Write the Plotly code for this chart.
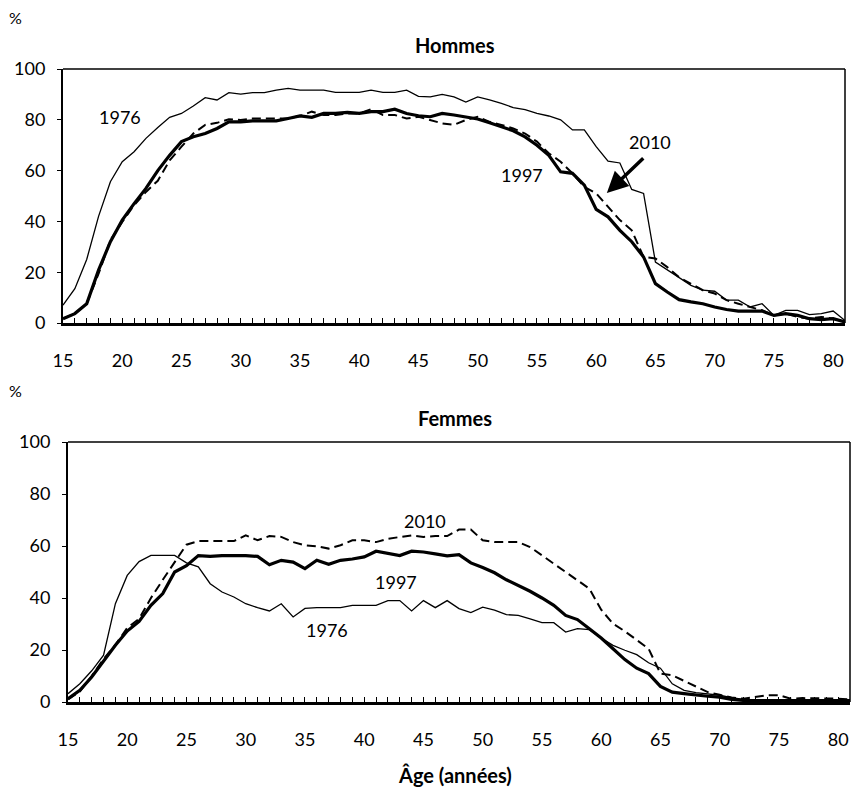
import plotly.graph_objects as go

ages = list(range(15, 82))

men_1976 = [7, 13.5, 25, 42, 55.6, 63.5, 67.4, 72.7, 77, 81, 82.5, 85.4, 88.7, 87.8, 90.7,
            90.1, 90.7, 90.7, 91.7, 92.4, 91.7, 91.7, 91.7, 90.8, 90.8, 90.8, 91.7, 90.8, 90.8, 91.7,
            89.2, 89, 90, 89, 87, 89, 87.8, 86.5, 84.8, 84, 82.5, 81.5, 80, 76, 76,
            69.4, 63.7, 63, 52.6, 51, 24, 21, 18, 14.8, 12.9, 12.5, 9, 9, 6.3, 7.6,
            3, 5, 5, 3.3, 3.7, 4.7, 1]
men_1997 = [1.7, 3.7, 7.6, 20.8, 32, 40.5, 47, 53, 60, 66, 71.4, 73.3, 74.6, 76.6, 79.2,
            79.2, 79.6, 79.6, 79.6, 80.5, 81.5, 81, 82.5, 82.5, 82.9, 82.5, 83.2, 83.2, 84.2, 82.5,
            81.6, 81.2, 82.5, 81.9, 81.2, 80.3, 78.8, 77.3, 75.7, 73.3, 70, 66, 59.5, 58.9, 54.3,
            44.7, 41.8, 36.5, 32, 26, 15.5, 12.2, 9.2, 8.3, 7.6, 6.3, 5.3, 4.7, 4.7, 4.7,
            3, 3.7, 3, 1.7, 1.3, 1.7, 0.4]
men_2010 = [1.7, 3.7, 7.6, 19.4, 32.6, 39.8, 46.4, 51.6, 56, 64, 69.4, 74.6, 78, 78.8, 80.2,
            79.9, 80.5, 80.5, 80.5, 80.5, 81.5, 83.2, 81.9, 81.9, 82.5, 82.5, 84.2, 81.9, 81.9, 80.5,
            81.2, 79.9, 78.6, 78, 79.9, 81.2, 79.2, 78, 76.6, 74.6, 71.4, 66.8, 63.5, 58.9, 53.6,
            51, 45.7, 40.5, 36.5, 26, 25.4, 22, 18, 15.5, 12.9, 11.6, 9, 7.6, 6.3, 5,
            3, 3.7, 2.4, 1.7, 2.4, 1.7, 0.5]

women_1976 = [3.2, 7, 12, 18, 37.8, 48.7, 54, 56.4, 56.4, 56.4, 53.5, 52, 45.5, 42.3, 40.4,
              37.8, 36.3, 35, 37.8, 32.7, 36, 36.3, 36.3, 36.3, 37.2, 37.2, 37.2, 39, 39, 35,
              39, 36.3, 39, 35.9, 34.4, 36.5, 35.3, 33.6, 33.3, 32, 30.5, 30.5, 26.9, 28.2, 27.8,
              24.6, 21.8, 19.9, 18.2, 15.1, 13, 7, 4.5, 3.6, 3.2, 2.6, 1.7, 1, 0.9, 0.8,
              0.7, 0.7, 0.7, 0.7, 0.7, 0.7, 0.7]
women_1997 = [1.3, 4.5, 9.6, 15.8, 21.8, 27.3, 31, 37.2, 41.7, 50, 52.4, 56.3, 56, 56.3, 56.4,
              56.3, 56, 52.8, 54.5, 53.8, 51.3, 54.5, 53, 54.5, 55, 55.8, 58, 57.3, 56.3, 58,
              57.7, 57, 56.2, 56.7, 53.5, 51.7, 49.7, 47, 44.9, 42.6, 40, 37.2, 33.3, 31.7, 28.2,
              24.6, 20.5, 16.3, 13, 10.9, 6, 3.8, 3.2, 2.6, 2.2, 1.9, 1, 0.6, 0.5, 0.5,
              0.5, 0.5, 0.5, 0.5, 0.5, 0.5, 0.5]
women_2010 = [1, 4, 10, 16.5, 22, 28.5, 32, 40, 47, 54, 60.5, 61.9, 61.9, 61.9, 61.9,
              64.1, 62.2, 63.8, 63.5, 61.5, 60.3, 59.9, 59, 60.3, 62.2, 62.2, 61.5, 62.8, 63.5, 64.1,
              63.5, 63.8, 63.8, 66.3, 66.3, 62.2, 61.5, 61.5, 61.5, 59.6, 56.4, 53.2, 49.7, 46.8, 43.6,
              35.5, 30.1, 27.2, 24, 20.5, 10.9, 10.3, 8.1, 5.8, 3.8, 2.8, 1.7, 1.3, 1.9, 2.6,
              2.6, 1.3, 1.5, 1.5, 1.3, 1.3, 1]

x_tick_vals = list(range(15, 81, 5))
y_tick_vals = [0, 20, 40, 60, 80, 100]

FONT = "Lato"
W, H = 855, 789

fig = go.Figure()

def add_series(xa, ya, y76, y97, y10):
    fig.add_trace(go.Scatter(x=ages, y=y76, mode="lines", xaxis=xa, yaxis=ya,
                             line=dict(color="black", width=1.3), showlegend=False))
    fig.add_trace(go.Scatter(x=ages, y=y10, mode="lines", xaxis=xa, yaxis=ya,
                             line=dict(color="black", width=2, dash="9px,5px"), showlegend=False))
    fig.add_trace(go.Scatter(x=ages, y=y97, mode="lines", xaxis=xa, yaxis=ya,
                             line=dict(color="black", width=3.2), showlegend=False))

add_series("x", "y", men_1976, men_1997, men_2010)
add_series("x2", "y2", women_1976, women_1997, women_2010)

def px_dom_x(a, b):
    return [a / W, b / W]

def px_dom_y(top, bottom):
    return [1 - bottom / H, 1 - top / H]

xcommon = dict(range=[15, 81], tickvals=x_tick_vals, ticks="inside", ticklen=5,
               tickcolor="black", tickwidth=1.2, showgrid=False, zeroline=False,
               showline=True, linecolor="black", linewidth=2.5, automargin=False,
               minor=dict(ticks="inside", dtick=1, tick0=15, ticklen=5, tickcolor="black",
                          tickwidth=1.2),
               tickfont=dict(family=FONT, size=18, color="black"), ticklabelstandoff=20)
ycommon = dict(range=[0, 100], tickvals=y_tick_vals, ticks="outside", ticklen=4,
               tickcolor="black", showgrid=False, zeroline=False, showline=True,
               linecolor="black", linewidth=2, ticklabelstandoff=8, automargin=False,
               tickfont=dict(family=FONT, size=18, color="black"))

fig.update_layout(
    width=W, height=H, margin=dict(l=0, r=0, t=0, b=0, autoexpand=False),
    paper_bgcolor="white", plot_bgcolor="white",
    xaxis=dict(domain=px_dom_x(63, 845), anchor="y", **xcommon),
    yaxis=dict(domain=px_dom_y(69, 323), anchor="x", **ycommon),
    xaxis2=dict(domain=px_dom_x(68, 850), anchor="y2", **xcommon),
    yaxis2=dict(domain=px_dom_y(442, 702), anchor="x2", **ycommon),
)

# frame (top and right borders)
for xr, yr in [("x", "y"), ("x2", "y2")]:
    fig.add_shape(type="line", xref=xr + " domain", yref=yr + " domain",
                  x0=0, x1=1, y0=1, y1=1, line=dict(color="black", width=1.5))
    fig.add_shape(type="line", xref=xr + " domain", yref=yr + " domain",
                  x0=1, x1=1, y0=0, y1=1, line=dict(color="black", width=1.5))

ann_font = dict(family=FONT, size=18, color="black")
title_font = dict(family=FONT, size=20, color="black")

def paper_text(text, px, py, font):
    return dict(text=text, x=px / W, y=1 - py / H, xref="paper", yref="paper",
                xanchor="center", yanchor="middle", showarrow=False, font=font)

annotations = [
    paper_text("%", 15, 18, dict(family=FONT, size=16, color="black")),
    paper_text("%", 15, 390, dict(family=FONT, size=16, color="black")),
    paper_text("<b>Hommes</b>", 455, 45, title_font),
    paper_text("<b>Femmes</b>", 455, 418, title_font),
    paper_text("<b>Âge (années)</b>", 455, 775, title_font),
    dict(text="1976", x=19.8, y=81, xref="x", yref="y", showarrow=False, font=ann_font),
    dict(text="1997", x=53.7, y=58.3, xref="x", yref="y", showarrow=False, font=ann_font),
    dict(text="2010", x=64.5, y=71.3, xref="x", yref="y", showarrow=False, font=ann_font),
    dict(text="", x=60.9, y=51.2, ax=64.1, ay=65.4, xref="x", yref="y", axref="x", ayref="y",
         showarrow=True, arrowhead=2, arrowsize=1.2, arrowwidth=3.5, arrowcolor="black"),
    dict(text="2010", x=45.1, y=69.6, xref="x2", yref="y2", showarrow=False, font=ann_font),
    dict(text="1997", x=42.7, y=46.2, xref="x2", yref="y2", showarrow=False, font=ann_font),
    dict(text="1976", x=36.9, y=27.7, xref="x2", yref="y2", showarrow=False, font=ann_font),
]
fig.update_layout(annotations=annotations)

fig.write_html("out.html", config={"displayModeBar": False},
               post_script="document.body.style.margin='0';document.body.style.padding='0';")
